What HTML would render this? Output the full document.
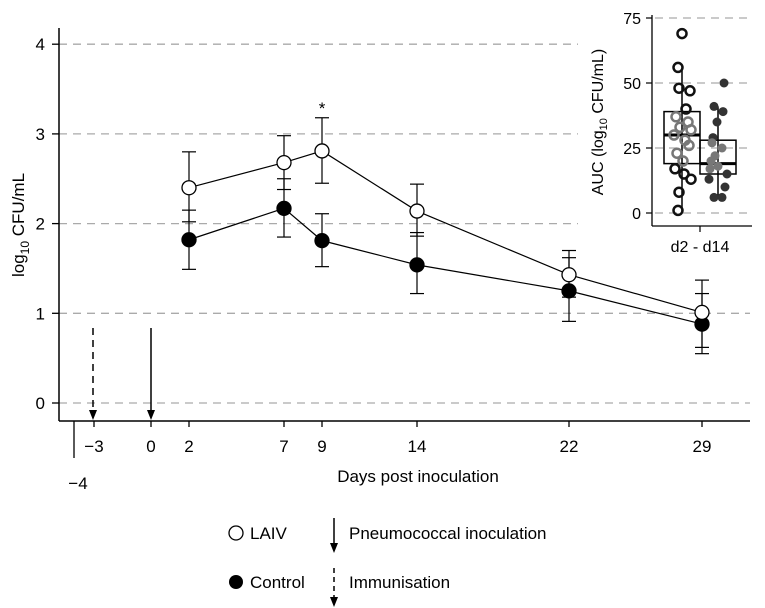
<!DOCTYPE html>
<html><head><meta charset="utf-8"><style>
body{margin:0;background:#fff;}
svg{display:block;font-family:"Liberation Sans",Arial,sans-serif;}
</style></head><body>
<svg id="c" width="765" height="608" viewBox="0 0 765 608" xmlns="http://www.w3.org/2000/svg"></svg>
<script>
const days=[2,7,9,14,22,29];
const laivMean=[2.40,2.68,2.81,2.14,1.43,1.01];
const laivLo=[2.02,2.38,2.45,1.86,1.18,0.62];
const laivHi=[2.80,2.98,3.18,2.44,1.70,1.37];
const ctrlMean=[1.82,2.17,1.81,1.54,1.25,0.88];
const ctrlLo=[1.49,1.85,1.52,1.22,0.91,0.55];
const ctrlHi=[2.15,2.50,2.11,1.90,1.62,1.22];
const xTicks=[-3,0,2,7,9,14,22,29];
const yTicks=[0,1,2,3,4];
const laivAuc=[69,56,48,47,40,37,35,33,32,30,28,26,23,20,17,15,13,8,1];
const ctrlAuc=[50,41,39,35,29,27,25,22,20,18,17,15,13,10,6,6];
const laivBox=[0,19,30,39,56];
const ctrlBox=[6,15,19,28,41];
const insetTicks=[0,25,50,75];

const NS="http://www.w3.org/2000/svg";
const svg=document.getElementById('c');
function el(t,a,p){const e=document.createElementNS(NS,t);for(const k in a)e.setAttribute(k,a[k]);(p||svg).appendChild(e);return e;}
const X=d=>151+19*d;
const Y=v=>403-89.7*v;
const IY=v=>213-2.6*v;

// grid
yTicks.forEach(v=>{const g=el('line',{x1:59,x2:750,y1:Y(v),y2:Y(v),stroke:'#aaa','stroke-width':1.3,'stroke-dasharray':'8,6'});
});
// axes
let a=el('line',{x1:59,x2:59,y1:28,y2:421,stroke:'#000','stroke-width':1.5});
a=el('line',{x1:59,x2:750,y1:421,y2:421,stroke:'#000','stroke-width':1.5});
yTicks.forEach(v=>{el('line',{x1:52,x2:59,y1:Y(v),y2:Y(v),stroke:'#000','stroke-width':1.3});
const t=el('text',{x:45,y:Y(v)+6,'text-anchor':'end','font-size':17});t.textContent=v;});
xTicks.forEach(d=>{el('line',{x1:X(d),x2:X(d),y1:421,y2:427,stroke:'#000','stroke-width':1.3});
const t=el('text',{x:X(d),y:452,'text-anchor':'middle','font-size':17});t.textContent=d<0?'\u2212'+(-d):d;});
el('line',{x1:74,x2:74,y1:421,y2:458,stroke:'#000','stroke-width':1.3});
let t=el('text',{x:78,y:489,'text-anchor':'middle','font-size':17});t.textContent='\u22124';
t=el('text',{x:418,y:482,'text-anchor':'middle','font-size':17});t.textContent='Days post inoculation';
t=el('text',{transform:'translate(24,225) rotate(-90)','text-anchor':'middle','font-size':17});t.innerHTML='log<tspan font-size="12" dy="5">10</tspan><tspan dy="-5"> CFU/mL</tspan>';
// arrows
function arrow(x,y1,y2,dash,name){const g=el('g',{});
el('line',{x1:x,x2:x,y1:y1,y2:y2-8,stroke:'#000','stroke-width':1.5,'stroke-dasharray':dash||'none'},g);
el('polygon',{points:`${x-4},${y2-10} ${x+4},${y2-10} ${x},${y2}`,fill:'#000'},g);}
arrow(93,328,420,'7,5','immunisation-arrow');
arrow(151,328,420,null,'inoculation-arrow');
// series
function series(mean,lo,hi,fill,name){
 const pts=days.map((d,i)=>X(d)+','+Y(mean[i])).join(' ');
 const l=el('polyline',{points:pts,fill:'none',stroke:'#000','stroke-width':1.2});
 days.forEach((d,i)=>{const x=X(d);
  const g=el('g',{stroke:'#000','stroke-width':1.2});
  el('line',{x1:x,x2:x,y1:Y(lo[i]),y2:Y(hi[i])},g);
  el('line',{x1:x-7,x2:x+7,y1:Y(lo[i]),y2:Y(lo[i])},g);
  el('line',{x1:x-7,x2:x+7,y1:Y(hi[i]),y2:Y(hi[i])},g);});
 days.forEach((d,i)=>{const c=el('circle',{cx:X(d),cy:Y(mean[i]),r:7,fill:fill,stroke:'#000','stroke-width':1.3});});
}
series(ctrlMean,ctrlLo,ctrlHi,'#000','control');
series(laivMean,laivLo,laivHi,'#fff','laiv');
t=el('text',{x:X(9),y:Y(laivHi[2])-4,'text-anchor':'middle','font-size':17});t.textContent='*';

// inset
el('rect',{x:578,y:8,width:180,height:250,fill:'#fff'});
insetTicks.forEach(v=>{const g=el('line',{x1:655,x2:752,y1:IY(v),y2:IY(v),stroke:'#aaa','stroke-width':1.3,'stroke-dasharray':'8,6'});
el('line',{x1:646,x2:652,y1:IY(v),y2:IY(v),stroke:'#000','stroke-width':1.2});
const tt=el('text',{x:641,y:IY(v)+6,'text-anchor':'end','font-size':16});tt.textContent=v;});
el('line',{x1:652,x2:652,y1:15,y2:226,stroke:'#000','stroke-width':1.3});
el('line',{x1:652,x2:752,y1:226,y2:226,stroke:'#000','stroke-width':1.3});
el('line',{x1:700,x2:700,y1:226,y2:232,stroke:'#000','stroke-width':1.2});
t=el('text',{x:700,y:252,'text-anchor':'middle','font-size':16});t.textContent='d2 - d14';
t=el('text',{transform:'translate(603,122) rotate(-90)','text-anchor':'middle','font-size':16});t.innerHTML='AUC (log<tspan font-size="11" dy="4">10</tspan><tspan dy="-4"> CFU/mL)</tspan>';
function box(b,x0,name){const g=el('g',{stroke:'#000','stroke-width':1.5,fill:'none'});
 const cx=x0+18;
 el('line',{x1:cx,x2:cx,y1:IY(b[0]),y2:IY(b[4])},g);
 el('rect',{x:x0,y:IY(b[3]),width:36,height:IY(b[1])-IY(b[3]),fill:'none'},g);
 el('line',{x1:x0,x2:x0+36,y1:IY(b[2]),y2:IY(b[2]),'stroke-width':3},g);}
box(laivBox,664,'laiv');box(ctrlBox,700,'control');
const jl=[0,-4,-3,8,4,-6,6,-2,9,-8,3,7,-5,1,-7,2,9,-3,-4];
laivAuc.forEach((v,i)=>{const c=el('circle',{cx:682+jl[i%jl.length],cy:IY(v),r:4.5,fill:'none',stroke:(v>19&&v<39)?'#777':'#111','stroke-width':2.5});});
const jc=[6,-4,5,-1,-5,-6,4,-3,-7,0,-8,9,-9,7,-4,4];
ctrlAuc.forEach((v,i)=>{const c=el('circle',{cx:718+jc[i%jc.length],cy:IY(v),r:4.5,fill:(v>15&&v<28)?'#777':'#333'});});

// legend
let c=el('circle',{cx:236,cy:533,r:7,fill:'#fff',stroke:'#000','stroke-width':1.3});
t=el('text',{x:250,y:539,'font-size':17});t.textContent='LAIV';
c=el('circle',{cx:236,cy:582,r:7,fill:'#000'});
t=el('text',{x:250,y:588,'font-size':17});t.textContent='Control';
arrow(334,518,553,null,'legend-inoculation-arrow');
arrow(334,568,607,'5,4','legend-immunisation-arrow');
t=el('text',{x:349,y:539,'font-size':17});t.textContent='Pneumococcal inoculation';
t=el('text',{x:349,y:588,'font-size':17});t.textContent='Immunisation';
</script>
</body></html>
